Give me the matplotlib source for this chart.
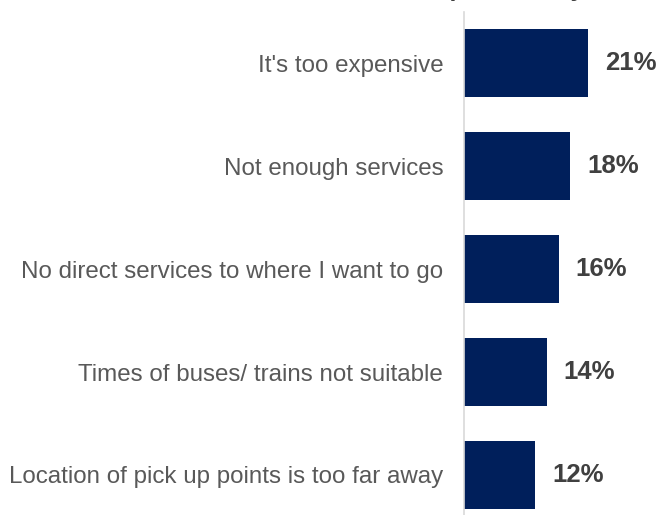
import matplotlib.pyplot as plt

# reasons and share of respondents (%)
reasons = ["It's too expensive",
           "Not enough services",
           "No direct services to where I want to go",
           "Times of buses/ trains not suitable",
           "Location of pick up points is too far away"]
shares = [21, 18, 16, 14, 12]

plt.rcParams['font.family'] = ['Liberation Sans', 'DejaVu Sans']

fig = plt.figure(figsize=(6.59, 5.15), dpi=100)
ax = fig.add_axes([464 / 659, 0, 195 / 659, 503 / 515])

ypos = range(len(reasons))
ax.barh(ypos, shares, height=0.66, color="#001F5B", left=0)

# value labels to the right of each bar
for y, v in zip(ypos, shares):
    ax.text(v + 2.9, y, f"{v}%", va="center", ha="left",
            fontsize=18.5, fontweight="bold", color="#404040")

ax.set_xlim(0, 33)
ax.set_ylim(4.39, -0.5)
ax.set_yticks(list(ypos))
ax.set_yticklabels(reasons, fontsize=17.4, color="#595959")
ax.tick_params(axis="y", length=0, pad=15)
ax.set_xticks([])
for s in ["top", "right", "bottom"]:
    ax.spines[s].set_visible(False)
ax.spines["left"].set_color("#D9D9D9")
ax.spines["left"].set_linewidth(1.2)

# chart heading, sits above the visible area
fig.text(584 / 659, 1 + 4 / 515, "Barriers to transport use by", fontsize=18,
         fontweight="bold", color="#404040", ha="right", va="baseline")

plt.savefig("out.png", dpi=100)
